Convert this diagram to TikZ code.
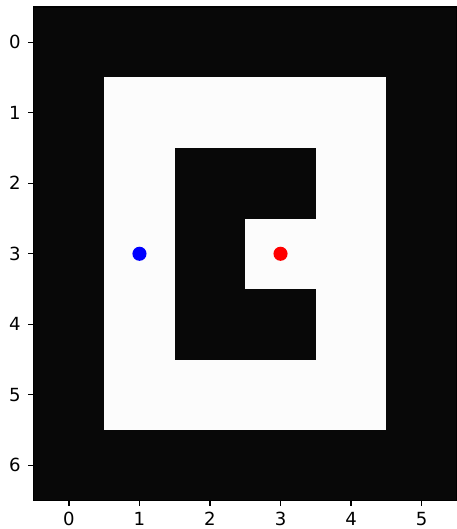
\documentclass[tikz,border=0pt]{standalone}
\usepackage{fontspec}
\setmainfont{DejaVu Sans}
\usetikzlibrary{positioning}
\definecolor{cellblack}{RGB}{8,8,8}
\definecolor{cellwhite}{RGB}{252,252,252}
\tikzset{
  cellfill/.style={fill=#1,draw=none},
  spine/.style={draw=black,line width=0.5pt},
  tickmark/.style={draw=black,line width=0.5pt},
  ticklab/.style={inner sep=0pt,font=\fontsize{7.3}{9}\selectfont},
  agent/.style={circle,fill=#1,draw=none,minimum size=0.2cm,inner sep=0pt}
}
\begin{document}
\begin{tikzpicture}[y=-1cm]
\useasboundingbox (-0.978,-0.599) rectangle (5.49,6.903);

% grid cells
\fill[cellfill=cellblack] (-0.5,-0.5) rectangle (5.5,6.5);
\fill[cellfill=cellwhite] (0.5,0.5) rectangle (4.5,5.5);
\fill[cellfill=cellblack] (1.5,1.5) rectangle (3.5,4.5);
\fill[cellfill=cellwhite] (2.5,2.5) rectangle (3.5,3.5);

% markers
\node[agent=blue] (start) at (1,3) {};
\node[agent=red] (goal) at (3,3) {};

% axes frame
\draw[spine] (-0.5,-0.5) rectangle (5.5,6.5);

% ticks
\foreach \i in {0,...,5}{
  \draw[tickmark] (\i,6.5) -- (\i,6.58);
  \node[ticklab,anchor=north] (xt\i) at (\i,6.66) {\i};
}
\foreach \j in {0,...,6}{
  \draw[tickmark] (-0.5,\j) -- (-0.58,\j);
  \node[ticklab,anchor=east] (yt\j) at (-0.68,\j) {\j};
}
\end{tikzpicture}
\end{document}
